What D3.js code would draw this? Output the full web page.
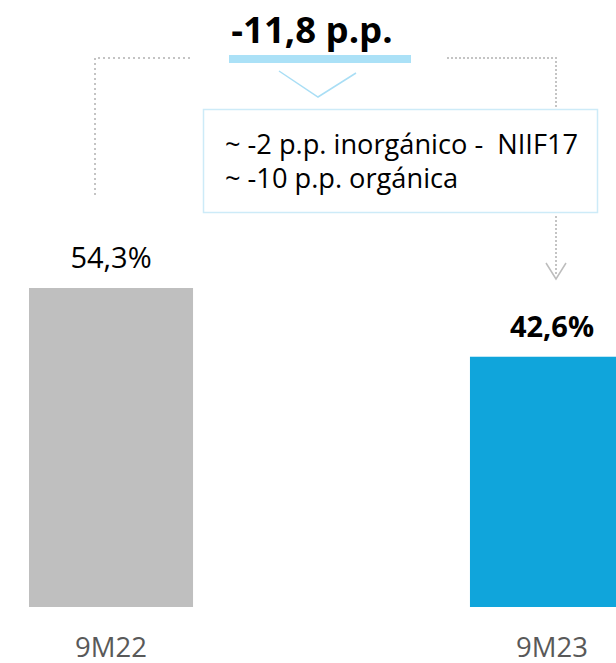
<!DOCTYPE html>
<html>
<head>
<meta charset="utf-8">
<script src="https://cdn.jsdelivr.net/npm/d3@7/dist/d3.min.js"></script>
<style>
  html, body { margin: 0; padding: 0; background: #ffffff; }
  svg { display: block; font-family: "Open Sans", "Noto Sans", sans-serif; }
</style>
</head>
<body>
<svg id="chart" width="616" height="663"></svg>
<script>
// Periods and ratio values (%)
const categories = ["9M22", "9M23"];
const values = [54.3, 42.6];
const valueLabels = ["54,3%", "42,6%"];
const barColors = ["#bfbfbf", "#10a5db"];
const labelWeights = ["normal", "bold"];

// Change annotation
const changeLabel = "-11,8 p.p.";
const breakdownLines = ["~ -2 p.p. inorgánico -  NIIF17", "~ -10 p.p. orgánica"];

const svg = d3.select("#chart");

const baseline = 607;
const x = d3.scaleBand()
  .domain(categories)
  .range([29, 634])
  .paddingInner(0.628)
  .paddingOuter(0);

const y = d3.scaleLinear()
  .domain([0, d3.max(values)])
  .range([baseline, 288]);

const data = categories.map((c, i) => ({ cat: c, v: values[i], label: valueLabels[i], color: barColors[i], weight: labelWeights[i] }));

// Bars
svg.append("g").selectAll("rect")
  .data(data)
  .join("rect")
  .attr("x", d => x(d.cat))
  .attr("y", d => y(d.v))
  .attr("width", x.bandwidth())
  .attr("height", d => y(0) - y(d.v))
  .attr("fill", d => d.color);

// Value labels above bars
svg.append("g").selectAll("text")
  .data(data)
  .join("text")
  .attr("x", d => x(d.cat) + x.bandwidth() / 2)
  .attr("y", d => y(d.v) - 20)
  .attr("text-anchor", "middle")
  .attr("font-size", 29)
  .attr("font-weight", d => d.weight)
  .attr("fill", "#000")
  .text(d => d.label);

// Category axis
const axis = svg.append("g")
  .attr("transform", `translate(0,${baseline})`)
  .call(d3.axisBottom(x).tickSize(0).tickPadding(0));
axis.select(".domain").remove();
axis.selectAll("text")
  .attr("y", 50)
  .attr("dy", 0)
  .attr("font-size", 27.5)
  .attr("font-family", "\"Open Sans\", \"Noto Sans\", sans-serif")
  .attr("fill", "#595959");

// Dotted bracket connecting the two periods
const dotted = svg.append("g")
  .attr("fill", "none")
  .attr("stroke", "#c4c4c4")
  .attr("stroke-width", 2);

dotted.append("path")
  .attr("d", "M95,195 L95,58 L192,58")
  .attr("stroke-dasharray", "2,3");

dotted.append("path")
  .attr("d", "M447,58 L556,58 L556,108")
  .attr("stroke-dasharray", "2,2");

dotted.append("path")
  .attr("d", "M556,216 L556,276")
  .attr("stroke-dasharray", "2,2");

// Arrow head
svg.append("path")
  .attr("d", "M546,263 L556,279 L566,263")
  .attr("fill", "none")
  .attr("stroke", "#bdbdbd")
  .attr("stroke-width", 1.5);

// Change headline
svg.append("text")
  .attr("x", 312)
  .attr("y", 43)
  .attr("text-anchor", "middle")
  .attr("font-size", 36.5)
  .attr("font-weight", "bold")
  .attr("fill", "#000")
  .text(changeLabel);

svg.append("rect")
  .attr("x", 229)
  .attr("y", 55)
  .attr("width", 182)
  .attr("height", 8)
  .attr("fill", "#abe1f7");

// Chevron pointing to the breakdown box
svg.append("path")
  .attr("d", "M279,71 L318,97 L356,73")
  .attr("fill", "none")
  .attr("stroke", "#a9def5")
  .attr("stroke-width", 1.5);

// Breakdown box
svg.append("rect")
  .attr("x", 203.5)
  .attr("y", 109.5)
  .attr("width", 394)
  .attr("height", 103)
  .attr("fill", "#fff")
  .attr("stroke", "#cdebf8")
  .attr("stroke-width", 1.5);

svg.append("g").selectAll("text")
  .data(breakdownLines)
  .join("text")
  .attr("x", 225)
  .attr("y", (d, i) => 154 + i * 34)
  .attr("font-size", 27.2)
  .attr("fill", "#000")
  .attr("xml:space", "preserve")
  .style("white-space", "pre")
  .text(d => d);
</script>
</body>
</html>
